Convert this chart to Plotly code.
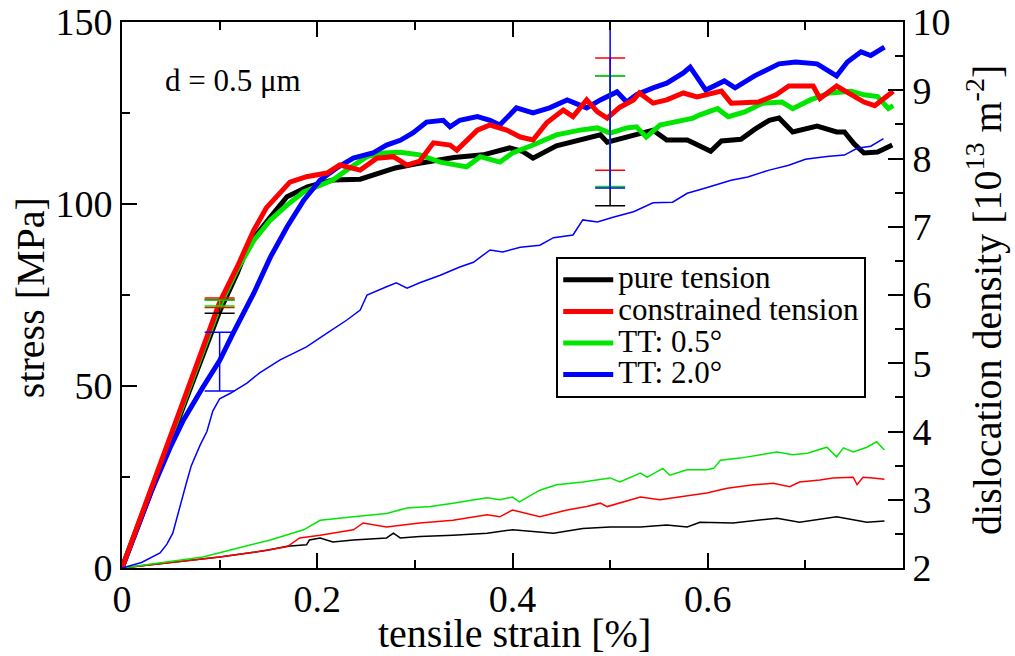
import plotly.graph_objects as go

# ---- stress curves (left axis, MPa) ----
pure_x = [0, 0.05, 0.1, 0.118, 0.13, 0.152, 0.169, 0.19, 0.216, 0.244, 0.262, 0.28, 0.3, 0.319,
          0.34, 0.37, 0.397, 0.41, 0.421, 0.445, 0.476, 0.49, 0.497, 0.51, 0.524, 0.544, 0.558,
          0.579, 0.585, 0.603, 0.614, 0.634, 0.648, 0.663, 0.673, 0.687, 0.712, 0.732, 0.74,
          0.75, 0.76, 0.774, 0.789]
pure_s = [0, 35.5, 70.5, 81, 89, 96.4, 102, 104.7, 106.6, 106.8, 108.5, 109.9, 111, 112,
          112.8, 113.5, 115.4, 114.5, 112.6, 116, 118, 119, 117, 118, 119, 120.3, 117.6,
          117.6, 116.8, 114.5, 117.3, 117.8, 120.5, 123, 123.6, 119.8, 121.4, 119.8, 119.8,
          116.5, 114, 114.3, 116.2]

con_x = [0, 0.05, 0.1, 0.118, 0.135, 0.148, 0.158, 0.172, 0.189, 0.21, 0.223, 0.244, 0.261,
         0.278, 0.292, 0.305, 0.319, 0.336, 0.343, 0.364, 0.377, 0.394, 0.408, 0.421, 0.435,
         0.452, 0.462, 0.476, 0.487, 0.497, 0.51, 0.524, 0.53, 0.544, 0.558, 0.575, 0.589,
         0.614, 0.624, 0.652, 0.67, 0.683, 0.708, 0.715, 0.732, 0.747, 0.76, 0.771, 0.785, 0.79]
con_s = [0, 36.5, 73, 82.7, 92.8, 99, 102, 106, 107.5, 108.5, 110.7, 109.3, 112.6,
         113, 110.7, 111.8, 116.8, 116.2, 114.8, 120.3, 121.7, 120.3, 118.4, 117.6, 122.3,
         125.8, 124, 128.6, 125.3, 123.6, 126.6, 128.6, 130.5, 127.7, 128.6, 130.5, 129.4,
         131, 127.7, 128, 130, 132.4, 132.4, 129, 132.4, 130, 128, 127, 130, 131]

tt05_x = [0, 0.05, 0.1, 0.118, 0.135, 0.152, 0.169, 0.186, 0.203, 0.216, 0.23, 0.251, 0.268,
          0.285, 0.305, 0.326, 0.353, 0.367, 0.387, 0.4, 0.421, 0.445, 0.469, 0.487, 0.5,
          0.517, 0.527, 0.537, 0.551, 0.564, 0.585, 0.592, 0.61, 0.621, 0.638, 0.656, 0.676,
          0.687, 0.705, 0.725, 0.747, 0.76, 0.774, 0.785, 0.79]
tt05_s = [0, 36, 72, 82, 90, 95.6, 99.7, 103.3, 105.2, 106.6, 109.3, 113, 114,
          114.2, 113.5, 111.5, 110.2, 113, 111.5, 114, 116.2, 119, 120.3, 120.9, 119.5,
          120.9, 121.2, 118.4, 121.7, 122.3, 123.6, 124.5, 126.2, 124, 125.3, 127.7, 128,
          126.2, 128.6, 130.5, 131, 130, 129.5, 126.2, 127]

tt20_x = [0, 0.03, 0.05, 0.063, 0.083, 0.1, 0.114, 0.135, 0.152, 0.169, 0.186, 0.203, 0.22,
          0.237, 0.257, 0.271, 0.285, 0.298, 0.312, 0.329, 0.336, 0.346, 0.364, 0.377, 0.387,
          0.404, 0.421, 0.438, 0.456, 0.476, 0.49, 0.507, 0.517, 0.527, 0.544, 0.558, 0.575,
          0.582, 0.598, 0.617, 0.628, 0.648, 0.673, 0.69, 0.712, 0.725, 0.732, 0.743, 0.757,
          0.767, 0.781]
tt20_s = [0, 21, 33.5, 40.7, 49.7, 57, 64.6, 75.5, 85.4, 93.7, 101, 106.6, 109.9,
          112.6, 114, 116.2, 117.5, 119.5, 122.5, 123, 121.2, 123, 124, 123, 121.7,
          126.4, 125, 126.4, 128.6, 126.4, 128.6, 130.8, 128, 130, 131.9, 133.2, 136,
          137.6, 131.3, 133.8, 131.9, 135.2, 138.5, 139, 138.5, 136.5, 135.2, 139, 141.8,
          140.8, 143.1]

# ---- dislocation density curves (right axis, 1e13 m^-2) ----
pure_dx = [0, 0.1, 0.135, 0.149, 0.169, 0.189, 0.192, 0.203, 0.216, 0.237, 0.271, 0.278, 0.285,
           0.305, 0.339, 0.374, 0.4, 0.421, 0.442, 0.472, 0.5, 0.531, 0.558, 0.579, 0.592,
           0.626, 0.671, 0.694, 0.732, 0.763, 0.781]
pure_d = [2.0, 2.16, 2.23, 2.26, 2.32, 2.34, 2.41, 2.44, 2.38, 2.41, 2.44, 2.51, 2.44,
          2.46, 2.48, 2.51, 2.56, 2.53, 2.51, 2.58, 2.6, 2.6, 2.63, 2.6, 2.67,
          2.66, 2.73, 2.67, 2.75, 2.67, 2.69]

con_dx = [0, 0.1, 0.135, 0.169, 0.182, 0.203, 0.237, 0.247, 0.271, 0.305, 0.339, 0.374, 0.387,
          0.4, 0.428, 0.456, 0.476, 0.49, 0.497, 0.531, 0.551, 0.572, 0.599, 0.62, 0.647,
          0.667, 0.684, 0.694, 0.715, 0.728, 0.749, 0.753, 0.759, 0.769, 0.781]
con_d = [2.0, 2.16, 2.23, 2.31, 2.44, 2.48, 2.56, 2.66, 2.6, 2.66, 2.7, 2.78, 2.75,
         2.85, 2.75, 2.85, 2.9, 2.95, 2.9, 3.04, 3.0, 3.04, 3.1, 3.17, 3.22,
         3.24, 3.19, 3.26, 3.29, 3.32, 3.33, 3.22, 3.33, 3.32, 3.3]

tt05_dx = [0, 0.083, 0.118, 0.152, 0.186, 0.203, 0.237, 0.271, 0.292, 0.316, 0.339, 0.374,
           0.387, 0.4, 0.407, 0.428, 0.445, 0.472, 0.5, 0.51, 0.531, 0.538, 0.554, 0.561,
           0.579, 0.599, 0.606, 0.613, 0.633, 0.654, 0.671, 0.687, 0.702, 0.722, 0.732,
           0.739, 0.749, 0.763, 0.773, 0.781]
tt05_d = [2.0, 2.16, 2.29, 2.41, 2.56, 2.7, 2.75, 2.8, 2.88, 2.9, 2.95, 3.03,
          3.0, 3.04, 2.97, 3.14, 3.22, 3.26, 3.32, 3.26, 3.39, 3.33, 3.46, 3.36,
          3.44, 3.44, 3.46, 3.58, 3.61, 3.66, 3.7, 3.66, 3.68, 3.77, 3.63,
          3.76, 3.70, 3.77, 3.85, 3.73]

tt20_dx = [0, 0.02, 0.039, 0.046, 0.052, 0.059, 0.066, 0.071, 0.08, 0.087, 0.093, 0.1, 0.111,
           0.128, 0.141, 0.162, 0.189, 0.21, 0.23, 0.244, 0.251, 0.271, 0.281, 0.292, 0.305,
           0.326, 0.346, 0.36, 0.377, 0.39, 0.408, 0.428, 0.442, 0.462, 0.472, 0.487, 0.503,
           0.524, 0.544, 0.564, 0.579, 0.596, 0.624, 0.641, 0.663, 0.683, 0.7, 0.722, 0.74,
           0.753, 0.767, 0.78]
tt20_d = [2.0, 2.08, 2.22, 2.35, 2.51, 2.9, 3.25, 3.5, 3.8, 4.0, 4.3, 4.48, 4.56,
          4.71, 4.86, 5.05, 5.24, 5.44, 5.63, 5.78, 6.0, 6.12, 6.18, 6.1, 6.18,
          6.29, 6.41, 6.48, 6.66, 6.63, 6.70, 6.73, 6.84, 6.88, 7.1, 7.07, 7.14,
          7.22, 7.35, 7.36, 7.49, 7.56, 7.68, 7.73, 7.83, 7.9, 7.99, 8.03, 8.05,
          8.15, 8.18, 8.29]

# ---- error bars on stress at two strains: centre, plus, minus ----
err_x = [0.1, 0.5]
pure_err = ([71.8, 117.5], [1.9, 17.7], [1.8, 18])
con_err = ([73, 124.7], [1.2, 15.4], [1.4, 15.4])
tt05_err = ([72.8, 120], [0.8, 15.2], [0.8, 15.2])
tt20_err = ([56.7, 128.6], [8.1, 24.2], [8.1, 24.2])

x_ticks = [0, 0.2, 0.4, 0.6]
names = ['pure tension', 'constrained tension', 'TT: 0.5°', 'TT: 2.0°']
colors = ['#000000', '#ff0000', '#00e600', '#0000ff']

FONT = 'Liberation Serif, Times New Roman, Times, serif'
fig = go.Figure()

stress = [(pure_x, pure_s), (con_x, con_s), (tt05_x, tt05_s), (tt20_x, tt20_s)]
dens = [(pure_dx, pure_d), (con_dx, con_d), (tt05_dx, tt05_d), (tt20_dx, tt20_d)]
errs = [pure_err, con_err, tt05_err, tt20_err]

# thin density lines
for (x, y), c in zip(dens, colors):
    fig.add_trace(go.Scatter(x=x, y=y, mode='lines', line=dict(color=c, width=1.5),
                             yaxis='y2', showlegend=False, hoverinfo='skip'))

# thick stress lines, drawn in this order
for i in [0, 2, 3, 1]:
    x, y = stress[i]
    # bigger text inside the entry, small legend font keeps the rows tight
    fig.add_trace(go.Scatter(x=x, y=y, mode='lines', legendrank=i,
                             name='<span style="font-size:31px">%s</span>' % names[i],
                             line=dict(color=colors[i], width=5)))

# error bars
for (c, plus, minus), col in zip(errs, colors):
    fig.add_trace(go.Scatter(x=err_x, y=c, mode='markers', marker=dict(size=1, color=col, opacity=0),
                             error_y=dict(type='data', symmetric=False, array=plus, arrayminus=minus,
                                          color=col, thickness=1.5, width=15),
                             showlegend=False, hoverinfo='skip'))

def axis(**kw):
    d = dict(showline=True, linecolor='black', linewidth=2, ticks='inside',
             tickcolor='black', tickwidth=2, ticklen=15, showgrid=False, zeroline=False,
             automargin=False, ticklabeloverflow='allow',
             tickfont=dict(family=FONT, size=38, color='black'))
    d.update(kw)
    return d

minor = lambda step: dict(dtick=step, ticklen=8, tickwidth=2, tickcolor='black', ticks='inside')

fig.update_layout(
    width=1015, height=656,
    plot_bgcolor='white', paper_bgcolor='white',
    margin=dict(l=122, r=112, t=22, b=88),
    font=dict(family=FONT, color='black'),
    xaxis=axis(range=[0, 0.8], tickvals=x_ticks, mirror='ticks', minor=minor(0.1),
               ticklabelstandoff=-4),
    yaxis=axis(range=[0, 150], dtick=50, tick0=0, minor=minor(25)),
    yaxis2=axis(range=[2, 10], dtick=1, tick0=2, overlaying='y', side='right', minor=minor(0.5)),
    legend=dict(x=0.556, y=0.5696, xanchor='left', yanchor='top', itemwidth=50,
                bgcolor='white', bordercolor='black', borderwidth=2,
                font=dict(family=FONT, size=22, color='black'), tracegroupgap=0),
    annotations=[
        dict(x=0.042, y=134, xref='x', yref='y', xanchor='left', yanchor='middle',
             text='d = 0.5 μm', showarrow=False, font=dict(family=FONT, size=31, color='black')),
        dict(x=0.503, y=-0.12, xref='paper', yref='paper', xanchor='center', yanchor='middle',
             text='tensile strain [%]', showarrow=False, font=dict(family=FONT, size=40, color='black')),
        dict(x=-0.1178, y=0.496, xref='paper', yref='paper', xanchor='center', yanchor='middle',
             text='stress [MPa]', textangle=-90, showarrow=False,
             font=dict(family=FONT, size=40, color='black')),
        dict(x=1.105, y=0.491, xref='paper', yref='paper', xanchor='center', yanchor='middle',
             text='dislocation density [10<sup>13</sup> m<sup>-2</sup>]', textangle=-90,
             showarrow=False, font=dict(family=FONT, size=40, color='black')),
    ],
)

# drop the default 8px body margin so the figure sits at the window's corner
fig.write_html('out.html', config={'displayModeBar': False},
               post_script="document.body.style.margin='0px';")
